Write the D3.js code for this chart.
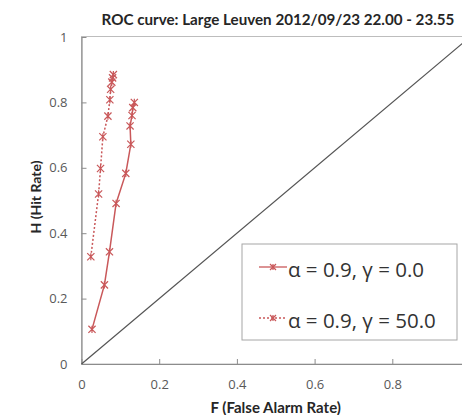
<!DOCTYPE html>
<html>
<head>
<meta charset="utf-8">
<script src="https://cdn.jsdelivr.net/npm/d3@7"></script>
<style>
  html, body { margin: 0; padding: 0; background: #fff; overflow: hidden; }
  svg { display: block; font-family: "Open Sans", Lato, sans-serif; }
</style>
</head>
<body>
<svg id="chart" width="462" height="415"></svg>
<script>
// ROC curve points (F = false alarm rate, H = hit rate)
const seriesNames = ["α = 0.9, γ = 0.0", "α = 0.9, γ = 50.0"];
const falseAlarmGamma0 = [0.027, 0.059, 0.072, 0.089, 0.114, 0.127, 0.125, 0.130, 0.132, 0.136];
const hitRateGamma0    = [0.106, 0.242, 0.343, 0.491, 0.583, 0.672, 0.728, 0.760, 0.784, 0.800];
const falseAlarmGamma50 = [0.024, 0.044, 0.049, 0.055, 0.068, 0.073, 0.075, 0.078, 0.080, 0.082];
const hitRateGamma50    = [0.328, 0.520, 0.598, 0.695, 0.758, 0.808, 0.840, 0.862, 0.875, 0.885];
const xTicks = [0, 0.2, 0.4, 0.6, 0.8];
const yTicks = [0, 0.2, 0.4, 0.6, 0.8, 1];

const svg = d3.select("#chart");
const plotLeft = 81.5, plotRight = 470, plotTop = 37, plotBottom = 364;
const x = d3.scaleLinear().domain([0, 1]).range([plotLeft, plotRight]);
const y = d3.scaleLinear().domain([0, 1]).range([plotBottom, plotTop]);
const red = "#c9585a";
const axisGray = "#8c8c8c";

// plot area frame
svg.append("rect")
  .attr("x", plotLeft).attr("y", plotTop - 0.5)
  .attr("width", plotRight - plotLeft).attr("height", plotBottom - plotTop + 0.5)
  .attr("fill", "none").attr("stroke", "#bdbdbd").attr("stroke-width", 1);

// axes with inward ticks
const xAxis = svg.append("g").attr("transform", `translate(0,${plotBottom})`)
  .call(d3.axisBottom(x).tickValues(xTicks).tickSizeInner(-5).tickSizeOuter(0)
    .tickPadding(16).tickFormat(d => d3.format("")(d)));
const yAxis = svg.append("g").attr("transform", `translate(${plotLeft},0)`)
  .call(d3.axisLeft(y).tickValues(yTicks).tickSizeInner(-5).tickSizeOuter(0)
    .tickPadding(14).tickFormat(d => d3.format("")(d)));
[xAxis, yAxis].forEach(g => {
  g.select(".domain").attr("stroke", axisGray).attr("stroke-width", 1.2);
  g.selectAll(".tick line").attr("stroke", axisGray);
  g.selectAll(".tick text").attr("fill", "#595959").attr("font-size", 13)
    .attr("font-family", "Open Sans, sans-serif");
});

// no-skill diagonal
svg.append("line")
  .attr("x1", x(0)).attr("y1", y(0)).attr("x2", x(1)).attr("y2", y(1))
  .attr("stroke", "#555").attr("stroke-width", 1.2);

// star marker (x with a vertical stroke)
function star(g, cx, cy, s) {
  g.append("path")
    .attr("d", `M${cx - s},${cy - s}L${cx + s},${cy + s}M${cx - s},${cy + s}L${cx + s},${cy - s}M${cx},${cy - s}L${cx},${cy + s}`)
    .attr("stroke", red).attr("stroke-width", 1.2).attr("fill", "none");
}

const line = d3.line().x(d => x(d[0])).y(d => y(d[1]));
const series = [
  { xs: falseAlarmGamma0, ys: hitRateGamma0, dash: null },
  { xs: falseAlarmGamma50, ys: hitRateGamma50, dash: "2,2" }
];
series.forEach(s => {
  const pts = s.xs.map((v, i) => [v, s.ys[i]]);
  svg.append("path").datum(pts).attr("d", line)
    .attr("fill", "none").attr("stroke", red).attr("stroke-width", 1.5)
    .attr("stroke-dasharray", s.dash);
  const g = svg.append("g");
  pts.forEach(p => star(g, x(p[0]), y(p[1]), 3.6));
});

// title and axis titles
svg.append("text").attr("x", 278).attr("y", 25)
  .attr("text-anchor", "middle").attr("font-weight", "bold").attr("font-size", 15.2)
  .attr("fill", "#262626").attr("font-family", "Lato, sans-serif")
  .text("ROC curve: Large Leuven 2012/09/23 22.00 - 23.55");
svg.append("text").attr("x", (plotLeft + plotRight) / 2).attr("y", 413)
  .attr("text-anchor", "middle").attr("font-weight", "bold").attr("font-size", 15)
  .attr("fill", "#262626").attr("font-family", "Lato, sans-serif")
  .text("F (False Alarm Rate)");
svg.append("text").attr("transform", "translate(41,197) rotate(-90)")
  .attr("text-anchor", "middle").attr("font-weight", "bold").attr("font-size", 14)
  .attr("fill", "#262626").attr("font-family", "Lato, sans-serif")
  .text("H (Hit Rate)");

// legend
const lg = svg.append("g");
lg.append("rect").attr("x", 242).attr("y", 244).attr("width", 215).attr("height", 96)
  .attr("fill", "#fff").attr("stroke", "#a6a6a6").attr("stroke-width", 1);
[267, 318].forEach((ly, i) => {
  lg.append("line").attr("x1", 259).attr("x2", 287).attr("y1", ly).attr("y2", ly)
    .attr("stroke", red).attr("stroke-width", 1.3)
    .attr("stroke-dasharray", series[i].dash);
  star(lg, 273, ly, 3);
  lg.append("text").attr("x", 288).attr("y", ly + 10)
    .attr("font-size", 20.5).attr("fill", "#333").attr("font-family", "Open Sans, sans-serif")
    .text(seriesNames[i]);
});
</script>
</body>
</html>
